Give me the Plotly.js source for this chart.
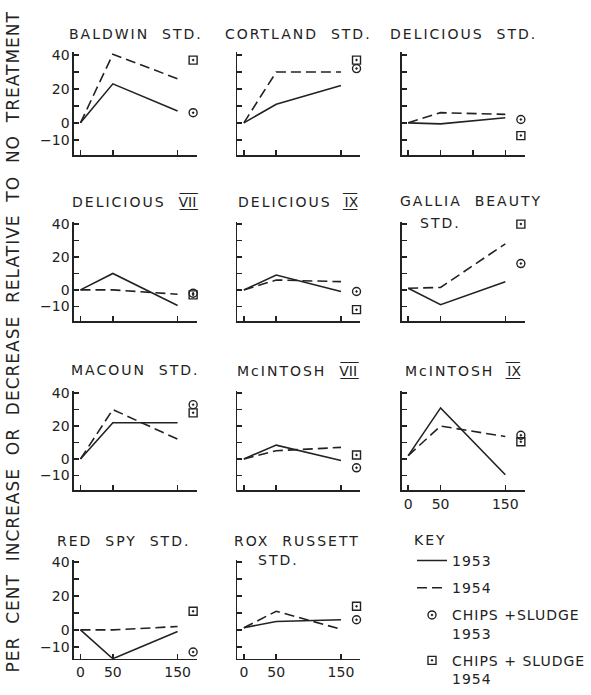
<!DOCTYPE html>
<html><head><meta charset="utf-8">
<script src="https://cdn.plot.ly/plotly-3.0.1.min.js"></script>
<style>html,body{margin:0;padding:0;background:#fff}</style>
</head><body><div id="chart" style="width:591px;height:695px"></div>
<script>
// ---- data ----
const doses = [0, 50, 150];
const markerDose = 174;
const varieties = ['BALDWIN  STD.', 'CORTLAND  STD.', 'DELICIOUS  STD.',
  'DELICIOUS  VII', 'DELICIOUS  IX', 'GALLIA  BEAUTY',
  'MACOUN  STD.', 'McINTOSH  VII', 'McINTOSH  IX',
  'RED  SPY  STD.', 'ROX  RUSSETT'];
const secondLines = ['', '', '', '', '', 'STD.', '', '', '', '', 'STD.'];
const series1953 = [[0,23,7],[0,11,22],[0,-0.6,3],[0,10,-9.5],[0,9,-1],[1,-9,5],[0,22,22],[0,8.4,-1],[2,31,-9.6],[0,-17,-1],[1.3,5,6]];
const series1954 = [[0,40.5,26],[0,30,30],[0,6,5],[0,0,-2.6],[0,6,5],[1,1.5,28],[0,30,12],[0,5,7],[2,20,13.6],[0,0,2],[1.3,11,0.4]];
const chips1953 = [6,32,2,-2,-1,16,33,-5.4,14.4,-13,6];
const chips1954 = [37,37,-7.5,-3,-12,40,28,2.4,10.4,11,14];
const yTickVals = [-10,0,10,20,30,40];
const yTickText = ['\u221210','0','','20','','40'];
const xTickVals = [0,50,150];
const xTickValsDel = [0,50,100,150];
const xTickText = ['0','50','150'];
const xTickTextDel = ['0','50','100','150'];
const legendNames = ['1953','1954','CHIPS +SLUDGE<br>1953','CHIPS + SLUDGE<br>1954'];
const yTitle = 'PER CENT INCREASE OR DECREASE RELATIVE TO NO TREATMENT';

// ---- layout geometry (pixels) ----
const W = 591, H = 695;
const INK = '#222';
const FONT = 'DejaVu Sans, Liberation Sans, sans-serif';
const colPx = [[77,205],[247,375],[418,546]];
const rowPx = [[53.4,157.8],[225.5,326.8],[397.5,498.8],[569.4,670.3]];
const rowRange = [[-19,41.5],[-19,41.5],[-19,41.5],[-17,41.5]];
const titleY = [35, 205, 377, 550];
const xRange = [-10, 180];

const sp = (t, ls) => '<span style="letter-spacing:' + ls + 'px">' + t.replace(/ /g, '\u00A0') + '</span>';
// Roman numerals drawn with bars above and below, as in the original lettering
const barred = s => s.split('').map(ch => ch + '\u0332\u0305').join('');
const titleText = t => {
  const m = t.match(/^(.*\s)(VII|IX)$/);
  if (!m) return sp(t, 2);
  return sp(m[1], 2) + '<span style="letter-spacing:0px">' + barred(m[2]) + '</span>';
};

const data = [];
const layout = {
  width: W, height: H,
  margin: {l:0, r:0, t:0, b:0},
  paper_bgcolor: '#fff', plot_bgcolor: '#fff',
  font: {family: FONT, color: INK, size: 14},
  showlegend: true,
  legend: {
    x: 429/W, y: 1 - 536/H, xanchor: 'left', yanchor: 'top',
    bgcolor: 'rgba(0,0,0,0)', borderwidth: 0,
    font: {family: FONT, size: 14, color: INK},
    title: {text: sp('KEY', 2), font: {family: FONT, size: 14, color: INK}},
    traceorder: 'grouped', tracegroupgap: 6, valign: 'top', itemwidth: 30
  },
  annotations: [],
  hovermode: false
};

varieties.forEach((name, i) => {
  const r = Math.floor(i / 3), c = i % 3;
  const ax = i === 0 ? '' : String(i + 1);
  const xa = 'x' + ax, ya = 'y' + ax;
  const first = i === 0;
  data.push({x: doses, y: series1953[i], xaxis: xa, yaxis: ya, mode: 'lines',
    line: {color: INK, width: 1.6}, name: sp(legendNames[0], 1), legendgroup: 'a', showlegend: first, cliponaxis: false});
  data.push({x: doses, y: series1954[i], xaxis: xa, yaxis: ya, mode: 'lines',
    line: {color: INK, width: 1.6, dash: '10px,5px'}, name: sp(legendNames[1], 1), legendgroup: 'b', showlegend: first, cliponaxis: false});
  data.push({x: [markerDose], y: [chips1953[i]], xaxis: xa, yaxis: ya, mode: 'markers',
    marker: {symbol: 'circle-open-dot', size: 8, color: INK, line: {width: 1.4, color: INK}},
    name: legendNames[2].split('<br>').map(s => sp(s, 1)).join('<br>'), legendgroup: 'c', showlegend: first, cliponaxis: false});
  data.push({x: [markerDose], y: [chips1954[i]], xaxis: xa, yaxis: ya, mode: 'markers',
    marker: {symbol: 'square-open-dot', size: 8, color: INK, line: {width: 1.4, color: INK}},
    name: legendNames[3].split('<br>').map(s => sp(s, 1)).join('<br>'), legendgroup: 'd', showlegend: first, cliponaxis: false});

  const showX = (i >= 8);
  layout['xaxis' + ax] = {
    domain: [colPx[c][0]/W, colPx[c][1]/W], anchor: ya, range: xRange,
    showline: true, linecolor: INK, linewidth: 1.6, mirror: false,
    ticks: 'inside', ticklen: 5, tickwidth: 1.5, tickcolor: INK,
    tickvals: (i === 2 ? xTickValsDel : xTickVals),
    ticktext: (i === 2 ? xTickTextDel : xTickText),
    showticklabels: showX, tickfont: {size: 14, family: FONT, color: INK},
    showgrid: false, zeroline: false, fixedrange: true
  };
  layout['yaxis' + ax] = {
    domain: [1 - rowPx[r][1]/H, 1 - rowPx[r][0]/H], anchor: xa, range: rowRange[r],
    showline: true, linecolor: INK, linewidth: 1.6,
    ticks: 'inside', ticklen: 5, tickwidth: 1.5, tickcolor: INK,
    tickvals: yTickVals, ticktext: yTickText,
    showticklabels: c === 0, tickfont: {size: 14, family: FONT, color: INK},
    showgrid: false, zeroline: false, fixedrange: true
  };

  const cx = (colPx[c][0] + colPx[c][1]) / 2;
  let tx = cx;
  if (i === 5) tx = 490;
  if (i === 10) tx = 309;
  if (i === 9) tx = 128;
  layout.annotations.push({xref: 'paper', yref: 'paper', x: tx/W, y: 1 - titleY[r]/H,
    xanchor: 'center', yanchor: 'middle', showarrow: false,
    text: titleText(name), font: {family: FONT, size: 14, color: INK}});
  if (secondLines[i]) {
    const sx = i === 5 ? 458 : 290;
    const sy = i === 5 ? 227 : 570;
    layout.annotations.push({xref: 'paper', yref: 'paper', x: sx/W, y: 1 - sy/H,
      xanchor: 'center', yanchor: 'middle', showarrow: false,
      text: sp(secondLines[i], 2), font: {family: FONT, size: 14, color: INK}});
  }
});

layout.annotations.push({xref: 'paper', yref: 'paper', x: 14/W, y: 1 - 348/H,
  xanchor: 'center', yanchor: 'middle', showarrow: false, textangle: -90,
  text: sp(yTitle.replace(/ /g, '  '), 1.0), font: {family: FONT, size: 17, color: INK}});

Plotly.newPlot('chart', data, layout, {displayModeBar: false, staticPlot: true});
</script>
</body></html>
